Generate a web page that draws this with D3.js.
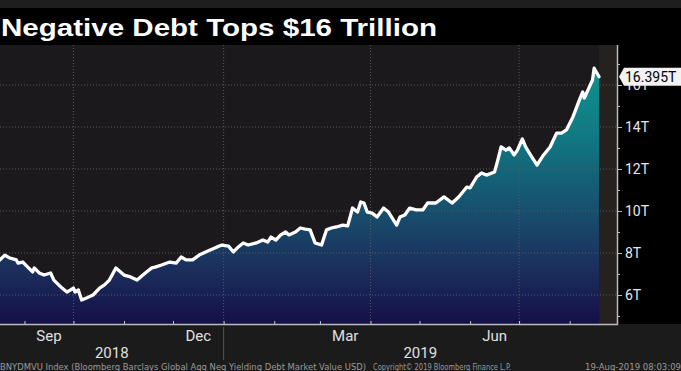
<!DOCTYPE html>
<html><head><meta charset="utf-8">
<script src="https://cdn.jsdelivr.net/npm/d3@7"></script>
<style>html,body{margin:0;padding:0;background:#000;overflow:hidden}</style>
</head><body>
<svg id="c" width="681" height="371"></svg>
<script>
const title = "Negative Debt Tops $16 Trillion";
const dates = ["2018-08-17","2018-08-20","2018-08-23","2018-08-27","2018-08-28","2018-08-31","2018-09-03","2018-09-06","2018-09-07","2018-09-10","2018-09-13","2018-09-17","2018-09-19","2018-09-24","2018-09-27","2018-10-01","2018-10-02","2018-10-04","2018-10-06","2018-10-09","2018-10-13","2018-10-17","2018-10-20","2018-10-23","2018-10-27","2018-11-01","2018-11-05","2018-11-09","2018-11-14","2018-11-18","2018-11-20","2018-11-24","2018-11-29","2018-12-03","2018-12-06","2018-12-09","2018-12-13","2018-12-17","2018-12-21","2018-12-28","2018-12-31","2019-01-04","2019-01-07","2019-01-10","2019-01-13","2019-01-16","2019-01-21","2019-01-25","2019-01-28","2019-01-30","2019-02-02","2019-02-05","2019-02-08","2019-02-10","2019-02-14","2019-02-17","2019-02-20","2019-02-23","2019-02-26","2019-03-02","2019-03-05","2019-03-08","2019-03-11","2019-03-15","2019-03-18","2019-03-21","2019-03-24","2019-03-26","2019-03-28","2019-03-30","2019-04-02","2019-04-05","2019-04-09","2019-04-12","2019-04-17","2019-04-19","2019-04-22","2019-04-25","2019-04-29","2019-05-03","2019-05-06","2019-05-11","2019-05-16","2019-05-21","2019-05-25","2019-05-30","2019-06-01","2019-06-05","2019-06-08","2019-06-11","2019-06-16","2019-06-18","2019-06-20","2019-06-23","2019-06-25","2019-06-28","2019-06-30","2019-07-03","2019-07-05","2019-07-08","2019-07-12","2019-07-16","2019-07-20","2019-07-24","2019-07-27","2019-07-30","2019-08-03","2019-08-07","2019-08-09","2019-08-10","2019-08-13","2019-08-15","2019-08-16","2019-08-19"];
const values = [7.67,7.90,7.76,7.67,7.52,7.57,7.33,7.10,7.29,7.05,6.95,7.05,6.71,6.33,6.14,6.33,6.14,6.24,5.76,5.86,6.00,6.33,6.48,6.71,7.29,6.95,6.86,6.71,7.05,7.29,7.33,7.43,7.57,7.52,7.81,7.67,7.67,7.90,8.05,8.29,8.38,8.33,8.05,8.29,8.48,8.38,8.48,8.62,8.52,8.76,8.62,8.86,9.00,8.86,9.00,9.19,9.14,9.10,8.48,8.38,9.10,9.19,9.24,9.33,9.29,10.14,9.95,10.43,10.38,9.95,9.90,9.71,10.14,9.95,9.33,9.71,9.81,10.14,10.05,10.05,10.38,10.38,10.67,10.38,10.67,11.14,11.10,11.62,11.81,11.71,11.86,12.43,13.05,12.90,13.00,12.67,12.90,13.43,13.05,12.67,12.19,12.67,13.05,13.71,13.71,13.86,14.48,15.29,15.67,15.38,15.90,16.24,16.80,16.395];
const yMajorTicks = [6,8,10,12,14,16];
const yMinorTicks = [5,7,9,11,13,15,17];
const monthLabels = ["Sep","Dec","Mar","Jun"];
const monthLabelMonths = ["2018-09-01","2018-12-01","2019-03-01","2019-06-01"];
const gridDates = ["2018-10-01","2019-01-01","2019-04-01","2019-07-01"];
const yearLabels = ["2018","2019"];
const yearStart = "2019-01-01";
const lastLabel = "16.395T";
const footer = ["BNYDMVU Index (Bloomberg Barclays Global Agg Neg Yielding Debt Market Value USD)","Copyright\u00A9 2019 Bloomberg Finance L.P.","19-Aug-2019 08:03:09"];

const parse = d3.timeParse("%Y-%m-%d");
const data = dates.map((d,i)=>({date:parse(d), value:values[i]}));
const svg = d3.select("#c");
const L=0, R=617, T=45, B=324;

const x = d3.scaleTime().domain([parse("2018-08-17"), parse("2019-08-30")]).range([L,R]);
const y = d3.scaleLinear().domain([6,16]).range([295,85]);

// backgrounds
svg.append("rect").attr("x",0).attr("y",0).attr("width",681).attr("height",371).attr("fill","#000");
svg.append("rect").attr("x",0).attr("y",0).attr("width",681).attr("height",8).attr("fill","#1e1e1e");
svg.append("rect").attr("x",0).attr("y",B).attr("width",681).attr("height",371-B).attr("fill","#1b1b1b");
svg.append("rect").attr("x",L).attr("y",T).attr("width",R-L).attr("height",B-T).attr("fill","#1b191b");
const lastX = x(data[data.length-1].date);
svg.append("rect").attr("x",lastX).attr("y",T).attr("width",R-lastX).attr("height",B-T).attr("fill","#24211f");

// title
svg.append("text").attr("x",1).attr("y",36).text(title)
  .attr("fill","#fff").attr("font-family","Liberation Sans, Arial, sans-serif").attr("font-weight","bold")
  .attr("font-size",24).attr("textLength",436).attr("lengthAdjust","spacingAndGlyphs");

// gradient
const defs = svg.append("defs");
const g = defs.append("linearGradient").attr("id","ag").attr("gradientUnits","userSpaceOnUse")
  .attr("x1",0).attr("x2",0).attr("y1",70).attr("y2",B);
[[0,"#10908e"],[0.25,"#107a82"],[0.55,"#174f6e"],[0.78,"#1b2f5c"],[1,"#150f48"]]
  .forEach(([o,c])=>g.append("stop").attr("offset",o).attr("stop-color",c));

const area = d3.area().x(d=>x(d.date)).y0(B).y1(d=>y(d.value));
svg.append("path").datum(data).attr("d",area).attr("fill","url(#ag)");

// gridlines
svg.append("g").selectAll("line").data(yMajorTicks).join("line")
  .attr("x1",L).attr("x2",R).attr("y1",d=>y(d)).attr("y2",d=>y(d))
  .attr("stroke","#5a5a5a").attr("stroke-width",1).attr("stroke-dasharray","1,2");
svg.append("g").selectAll("line").data(gridDates.map(parse)).join("line")
  .attr("x1",d=>x(d)).attr("x2",d=>x(d)).attr("y1",T).attr("y2",B)
  .attr("stroke","#5a5a5a").attr("stroke-width",1).attr("stroke-dasharray","1,2");

// line
const line = d3.line().x(d=>x(d.date)).y(d=>y(d.value));
svg.append("path").datum(data).attr("d",line).attr("fill","none")
  .attr("stroke","#fff").attr("stroke-width",3.3).attr("stroke-linejoin","round").attr("stroke-linecap","round");

// right axis
const yAxisMinor = d3.axisRight(y).tickValues(yMinorTicks).tickSize(3).tickFormat("");
const ga1 = svg.append("g").attr("transform",`translate(${R},0)`).call(yAxisMinor);
const yAxis = d3.axisRight(y).tickValues(yMajorTicks).tickSize(5).tickPadding(3).tickFormat(d=>d+"T");
const ga = svg.append("g").attr("transform",`translate(${R},0)`).call(yAxis);
[ga,ga1].forEach(a=>{a.select(".domain").remove(); a.selectAll("line").attr("stroke","#bbb");});
ga.selectAll("text").attr("fill","#e8e8e8").attr("font-family","Roboto, sans-serif").attr("font-size",14);
svg.append("line").attr("x1",R+0.5).attr("x2",R+0.5).attr("y1",T).attr("y2",B+0.5).attr("stroke","#bbb").attr("stroke-width",1.5);

// bottom axis
const months = d3.timeMonth.range(parse("2018-09-01"), parse("2019-08-02"));
const xAxis = d3.axisBottom(x).tickValues(months).tickSize(-3).tickFormat("");
const gx = svg.append("g").attr("transform",`translate(0,${B})`).call(xAxis);
gx.select(".domain").remove();
gx.selectAll("line").attr("stroke","#ccc");
svg.append("line").attr("x1",L).attr("x2",R+1).attr("y1",B+0.5).attr("y2",B+0.5).attr("stroke","#bbb").attr("stroke-width",1.5);

svg.append("g").selectAll("text").data(monthLabels).join("text")
  .attr("x",(d,i)=>{const m=parse(monthLabelMonths[i]); return (x(m)+x(d3.timeMonth.offset(m,1)))/2;})
  .attr("y",341).attr("text-anchor","middle").text(d=>d)
  .attr("fill","#e0e0e0").attr("font-family","Roboto, sans-serif").attr("font-size",15);
const xs = x(parse(yearStart));
svg.append("g").selectAll("text").data(yearLabels).join("text")
  .attr("x",(d,i)=> i===0 ? (L+xs)/2 : (xs+R)/2)
  .attr("y",358).attr("text-anchor","middle").text(d=>d)
  .attr("fill","#e0e0e0").attr("font-family","Roboto, sans-serif").attr("font-size",15);
svg.append("line").attr("x1",xs).attr("x2",xs).attr("y1",B+3).attr("y2",360).attr("stroke","#555");

// last value label
const ly = y(values[values.length-1]);
const lab = svg.append("g");
lab.append("path").attr("d",`M${R+2},${ly} L${R+7},${ly-9} L${681},${ly-9} L${681},${ly+9} L${R+7},${ly+9} Z`)
  .attr("fill","#f2f2f2");
lab.append("text").attr("x",R+8).attr("y",ly+5).text(lastLabel)
  .attr("fill","#000").attr("font-family","Roboto, sans-serif").attr("font-size",14);

// footer
const fx = [[0,366],[373,138],[585,96]];
svg.append("g").selectAll("text").data(footer).join("text")
  .attr("x",(d,i)=>fx[i][0]).attr("y",369.5).text(d=>d)
  .attr("textLength",(d,i)=>fx[i][1]).attr("lengthAdjust","spacingAndGlyphs")
  .attr("fill","#9a9a9a").attr("font-family","DejaVu Sans Condensed, DejaVu Sans, sans-serif").attr("font-size",8.5);
</script>
</body></html>
